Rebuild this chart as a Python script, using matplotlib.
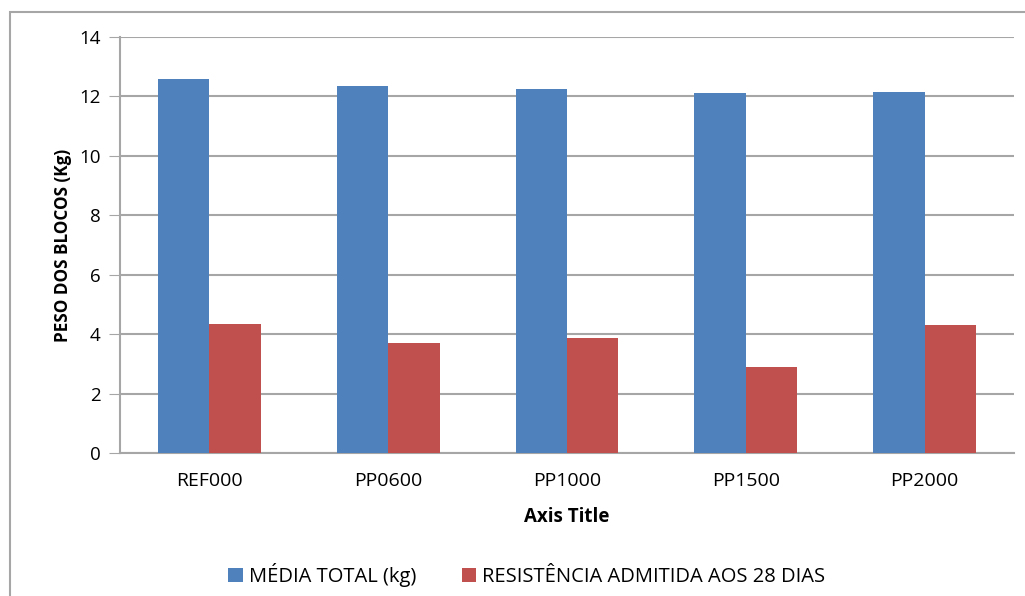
import numpy as np
import matplotlib.pyplot as plt
from matplotlib.patches import Rectangle

# data
categories = ['REF000', 'PP0600', 'PP1000', 'PP1500', 'PP2000']
media_total = [12.58, 12.36, 12.26, 12.12, 12.15]
resistencia = [4.34, 3.69, 3.88, 2.89, 4.30]
series_names = ['MÉDIA TOTAL (kg)', 'RESISTÊNCIA ADMITIDA AOS 28 DIAS']
y_ticks = [0, 2, 4, 6, 8, 10, 12, 14]

plt.rcParams['font.family'] = ['Open Sans', 'DejaVu Sans']

fig = plt.figure(figsize=(10.25, 5.96), dpi=100)
ax = fig.add_axes([120 / 1025, 1 - 453 / 596, 894 / 1025, 416 / 596])

# outer chart border
fig.patches.append(Rectangle((10 / 1025, -0.1), 1.1, 1 - 12 / 596 + 0.1,
                             transform=fig.transFigure, fill=False,
                             edgecolor='#a6a6a6', linewidth=1.5))

x = np.arange(len(categories))
w = 0.288
ax.bar(x - w / 2, media_total, w, color='#4f81bd', label=series_names[0], zorder=3)
ax.bar(x + w / 2, resistencia, w, color='#c0504d', label=series_names[1], zorder=3)

ax.set_xlim(-0.5, len(categories) - 0.5)
ax.set_ylim(0, 14)
ax.set_yticks(y_ticks)
ax.set_xticks(x)
ax.set_xticklabels(categories, fontsize=14)
ax.tick_params(axis='x', length=0, pad=14)
ax.tick_params(axis='y', length=8, color='#a6a6a6', labelsize=13.5, pad=6)
ax.yaxis.grid(True, color='#a6a6a6', linewidth=1.5, zorder=0)

for s in ['top', 'right']:
    ax.spines[s].set_visible(False)
for s in ['left', 'bottom']:
    ax.spines[s].set_color('#a6a6a6')
    ax.spines[s].set_linewidth(1.5)

ax.set_ylabel('PESO DOS BLOCOS (Kg)', fontsize=12.3, fontweight='bold', labelpad=5)
ax.set_xlabel('Axis Title', fontsize=13.5, fontweight='bold', labelpad=12)

fig.legend(loc='center', bbox_to_anchor=(527 / 1025, 1 - 575 / 596), ncol=2,
           frameon=False, fontsize=14.5, handlelength=0.7, handleheight=0.7,
           columnspacing=2.3, handletextpad=0.3)

fig.savefig('out.png', dpi=100)
